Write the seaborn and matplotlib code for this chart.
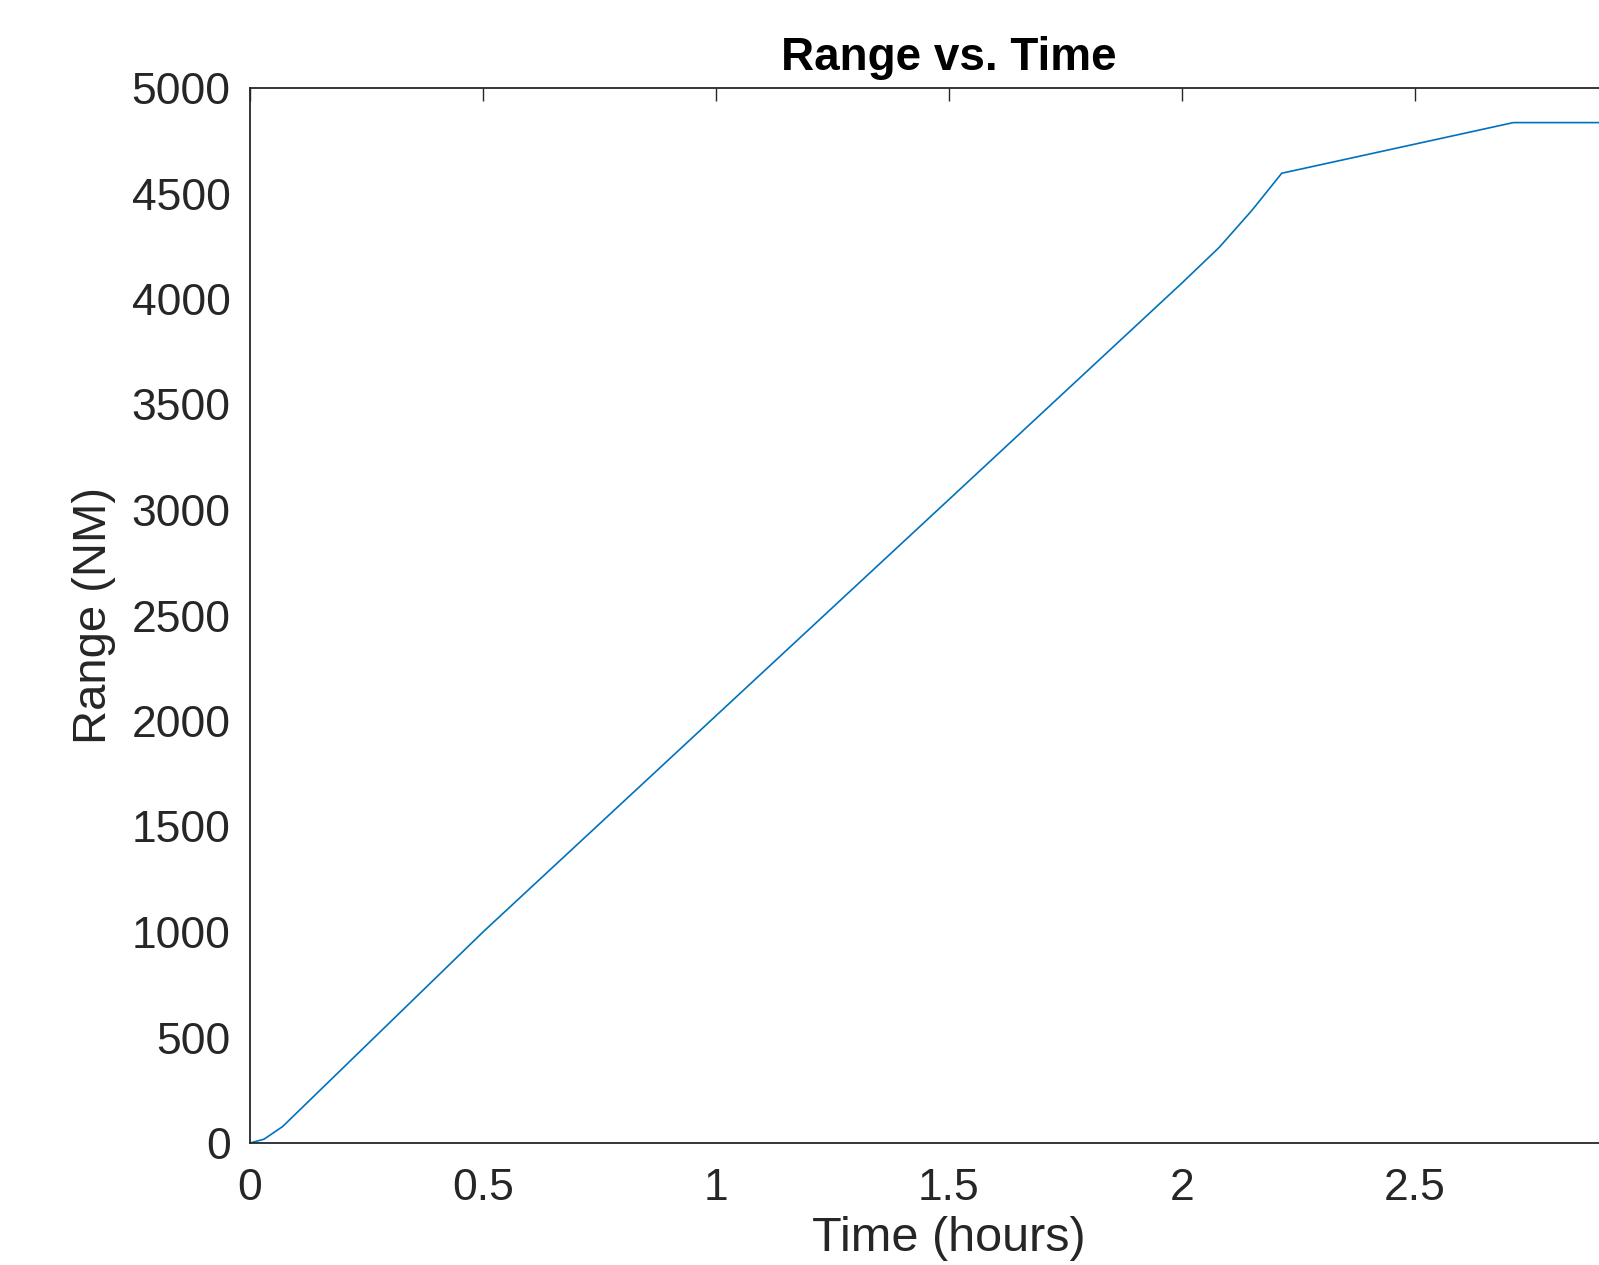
import matplotlib
matplotlib.use("Agg")
import matplotlib.pyplot as plt
import seaborn as sns
import pandas as pd

time_hours = [0.0, 0.03, 0.07, 0.5, 1.0, 1.5, 2.0, 2.08, 2.15, 2.214, 2.711, 3.0]
range_nm = [0, 18, 78, 1000, 2025, 3050, 4076, 4245, 4420, 4596, 4836, 4836]
x_ticks = [0, 0.5, 1, 1.5, 2, 2.5, 3]
x_tick_labels = ["0", "0.5", "1", "1.5", "2", "2.5", ""]
y_ticks = [0, 500, 1000, 1500, 2000, 2500, 3000, 3500, 4000, 4500, 5000]

sns.set_style("white")
plt.rcParams['font.family'] = ['Liberation Sans', 'DejaVu Sans']

W, H = 1599, 1265
fig = plt.figure(figsize=(W / 100, H / 100), dpi=100)
left, right, top, bottom = 250, 1648, 88, 1143
ax = fig.add_axes([left / W, (H - bottom) / H, (right - left) / W, (bottom - top) / H])

df = pd.DataFrame({"Time": time_hours, "Range": range_nm})
sns.lineplot(data=df, x="Time", y="Range", ax=ax, color="#0072BD", linewidth=1.2)

ax.set_xlim(0, 3)
ax.set_ylim(0, 5000)
ax.set_xticks(x_ticks)
ax.set_xticklabels(x_tick_labels)
ax.set_yticks(y_ticks)
ax.set_yticklabels([str(v) for v in y_ticks])

text_color = "#262626"
for s in ax.spines.values():
    s.set_visible(True)
    s.set_color(text_color)
    s.set_linewidth(1.3)

ax.tick_params(axis="both", direction="in", length=9, width=1.0, color=text_color,
               labelsize=32, labelcolor=text_color, top=True, right=True)
ax.tick_params(axis="x", pad=18)
ax.tick_params(axis="y", pad=14)

ax.set_xlabel("Time (hours)", fontsize=35, color=text_color, labelpad=5)
ax.set_ylabel("Range (NM)", fontsize=34, color=text_color, labelpad=11)
ax.set_title("Range vs. Time", fontsize=33, fontweight="bold", color="black", pad=13)

fig.savefig("out.png", dpi=100)
